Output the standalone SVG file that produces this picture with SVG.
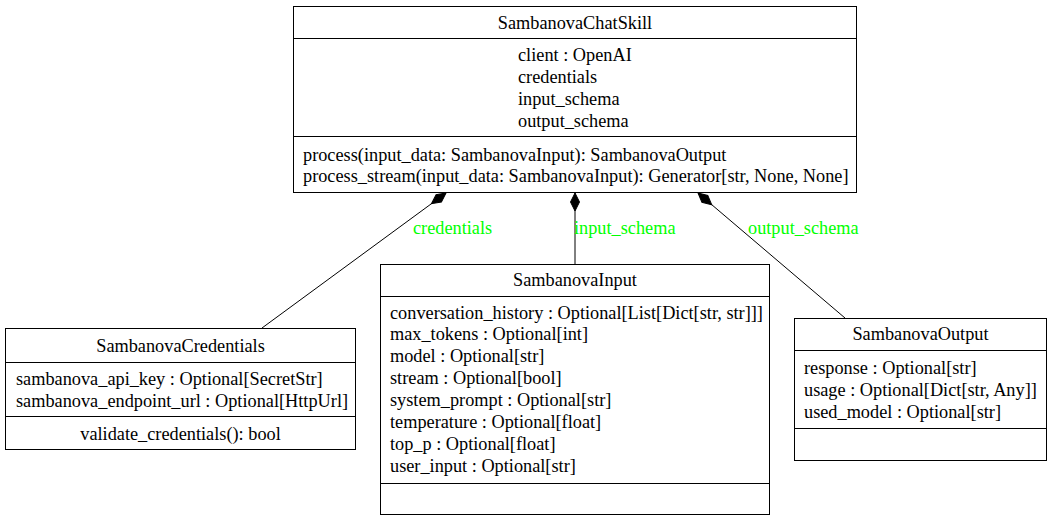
<svg xmlns="http://www.w3.org/2000/svg" width="1052" height="521" viewBox="0 0 1052 521">
<style>
text{font-family:"Liberation Serif","Times New Roman",serif;font-size:18.3px;fill:#000}
.c{text-anchor:middle}
.box{fill:#fff;stroke:#000;stroke-width:1}
.sep{stroke:#000;stroke-width:1}
.edge{fill:none;stroke:#000;stroke-width:1}
.lbl{fill:#00ff00}
</style>
<defs>
<marker id="diamond" markerUnits="userSpaceOnUse" markerWidth="20" markerHeight="12" refX="0" refY="5" orient="auto" viewBox="0 0 20 10" overflow="visible">
<polygon points="0,5 9,0.5 18,5 9,9.5" fill="#000" stroke="#000"/>
</marker>
</defs>
<rect width="1052" height="521" fill="#fff"/>
<g id="connectors">
<path class="edge" d="M446,193 L262,328" marker-start="url(#diamond)"/>
<text class="lbl" x="413" y="234">credentials</text>
<path class="edge" d="M575,193 L575,264" marker-start="url(#diamond)"/>
<text class="lbl" x="574" y="234">input_schema</text>
<path class="edge" d="M698,193 L845,318" marker-start="url(#diamond)"/>
<text class="lbl" x="748" y="234">output_schema</text>
</g>
<g id="SambanovaChatSkill">
<rect class="box" x="293.5" y="6.5" width="563" height="186"/>
<line class="sep" x1="293.5" y1="38.5" x2="856.5" y2="38.5"/>
<line class="sep" x1="293.5" y1="136.5" x2="856.5" y2="136.5"/>
<text class="c" x="575" y="28.5">SambanovaChatSkill</text>
<text x="518" y="61">client : OpenAI</text>
<text x="518" y="83">credentials</text>
<text x="518" y="105">input_schema</text>
<text x="518" y="127">output_schema</text>
<text x="303" y="160.5">process(input_data: SambanovaInput): SambanovaOutput</text>
<text x="303" y="182">process_stream(input_data: SambanovaInput): Generator[str, None, None]</text>
</g>
<g id="SambanovaCredentials">
<rect class="box" x="5.5" y="328.5" width="350" height="121"/>
<line class="sep" x1="5.5" y1="362.5" x2="355.5" y2="362.5"/>
<line class="sep" x1="5.5" y1="416.5" x2="355.5" y2="416.5"/>
<text class="c" x="180.5" y="352">SambanovaCredentials</text>
<text x="16" y="385">sambanova_api_key : Optional[SecretStr]</text>
<text x="16" y="407">sambanova_endpoint_url : Optional[HttpUrl]</text>
<text class="c" x="180.5" y="439.5">validate_credentials(): bool</text>
</g>
<g id="SambanovaInput">
<rect class="box" x="380.5" y="264.5" width="389" height="250"/>
<line class="sep" x1="380.5" y1="296.5" x2="769.5" y2="296.5"/>
<line class="sep" x1="380.5" y1="483.5" x2="769.5" y2="483.5"/>
<text class="c" x="575" y="286">SambanovaInput</text>
<text x="390" y="318.5">conversation_history : Optional[List[Dict[str, str]]]</text>
<text x="390" y="340.4">max_tokens : Optional[int]</text>
<text x="390" y="362.2">model : Optional[str]</text>
<text x="390" y="384.1">stream : Optional[bool]</text>
<text x="390" y="405.9">system_prompt : Optional[str]</text>
<text x="390" y="427.8">temperature : Optional[float]</text>
<text x="390" y="449.7">top_p : Optional[float]</text>
<text x="390" y="471.5">user_input : Optional[str]</text>
</g>
<g id="SambanovaOutput">
<rect class="box" x="794.5" y="318.5" width="252" height="142"/>
<line class="sep" x1="794.5" y1="350.5" x2="1046.5" y2="350.5"/>
<line class="sep" x1="794.5" y1="428.5" x2="1046.5" y2="428.5"/>
<text class="c" x="920.5" y="340">SambanovaOutput</text>
<text x="804" y="374">response : Optional[str]</text>
<text x="804" y="396">usage : Optional[Dict[str, Any]]</text>
<text x="804" y="418">used_model : Optional[str]</text>
</g>
</svg>
